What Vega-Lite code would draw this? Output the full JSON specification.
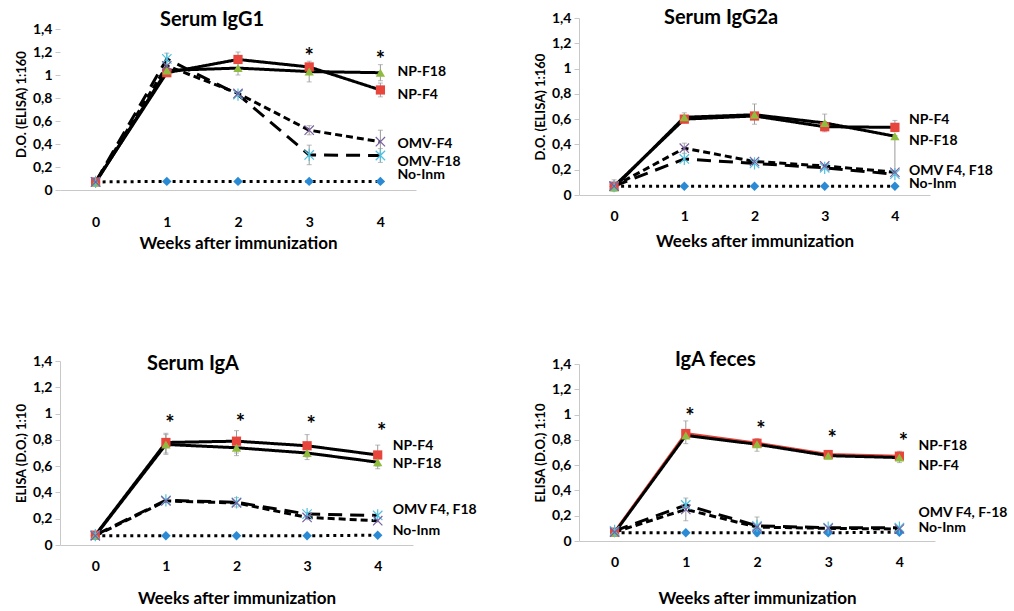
{
  "$schema": "https://vega.github.io/schema/vega-lite/v6.json",
  "background": "white",
  "padding": {"left": 15, "top": 8, "right": 0, "bottom": 0},
  "spacing": 56,
  "columns": 2,
  "align": "none",
  "datasets": {
    "pts": [
      {"p": "IgG1", "s": "No-Inm", "w": 0, "v": 0.07}, {"p": "IgG1", "s": "No-Inm", "w": 1, "v": 0.075}, {"p": "IgG1", "s": "No-Inm", "w": 2, "v": 0.075}, {"p": "IgG1", "s": "No-Inm", "w": 3, "v": 0.075}, {"p": "IgG1", "s": "No-Inm", "w": 4, "v": 0.075},
      {"p": "IgG1", "s": "OMV-F18", "w": 0, "v": 0.07}, {"p": "IgG1", "s": "OMV-F18", "w": 1, "v": 1.14}, {"p": "IgG1", "s": "OMV-F18", "w": 2, "v": 0.83}, {"p": "IgG1", "s": "OMV-F18", "w": 3, "v": 0.305}, {"p": "IgG1", "s": "OMV-F18", "w": 4, "v": 0.3},
      {"p": "IgG1", "s": "OMV-F4", "w": 0, "v": 0.07}, {"p": "IgG1", "s": "OMV-F4", "w": 1, "v": 1.08}, {"p": "IgG1", "s": "OMV-F4", "w": 2, "v": 0.84}, {"p": "IgG1", "s": "OMV-F4", "w": 3, "v": 0.52}, {"p": "IgG1", "s": "OMV-F4", "w": 4, "v": 0.42},
      {"p": "IgG1", "s": "NP-F4", "w": 0, "v": 0.07}, {"p": "IgG1", "s": "NP-F4", "w": 1, "v": 1.02}, {"p": "IgG1", "s": "NP-F4", "w": 2, "v": 1.135}, {"p": "IgG1", "s": "NP-F4", "w": 3, "v": 1.07}, {"p": "IgG1", "s": "NP-F4", "w": 4, "v": 0.87},
      {"p": "IgG1", "s": "NP-F18", "w": 0, "v": 0.065}, {"p": "IgG1", "s": "NP-F18", "w": 1, "v": 1.04}, {"p": "IgG1", "s": "NP-F18", "w": 2, "v": 1.06}, {"p": "IgG1", "s": "NP-F18", "w": 3, "v": 1.03}, {"p": "IgG1", "s": "NP-F18", "w": 4, "v": 1.02},

      {"p": "IgG2a", "s": "No-Inm", "w": 0, "v": 0.07}, {"p": "IgG2a", "s": "No-Inm", "w": 1, "v": 0.07}, {"p": "IgG2a", "s": "No-Inm", "w": 2, "v": 0.07}, {"p": "IgG2a", "s": "No-Inm", "w": 3, "v": 0.07}, {"p": "IgG2a", "s": "No-Inm", "w": 4, "v": 0.07},
      {"p": "IgG2a", "s": "OMV-F18", "w": 0, "v": 0.07}, {"p": "IgG2a", "s": "OMV-F18", "w": 1, "v": 0.285}, {"p": "IgG2a", "s": "OMV-F18", "w": 2, "v": 0.25}, {"p": "IgG2a", "s": "OMV-F18", "w": 3, "v": 0.215}, {"p": "IgG2a", "s": "OMV-F18", "w": 4, "v": 0.165},
      {"p": "IgG2a", "s": "OMV-F4", "w": 0, "v": 0.07}, {"p": "IgG2a", "s": "OMV-F4", "w": 1, "v": 0.37}, {"p": "IgG2a", "s": "OMV-F4", "w": 2, "v": 0.265}, {"p": "IgG2a", "s": "OMV-F4", "w": 3, "v": 0.23}, {"p": "IgG2a", "s": "OMV-F4", "w": 4, "v": 0.18},
      {"p": "IgG2a", "s": "NP-F4", "w": 0, "v": 0.07}, {"p": "IgG2a", "s": "NP-F4", "w": 1, "v": 0.6}, {"p": "IgG2a", "s": "NP-F4", "w": 2, "v": 0.625}, {"p": "IgG2a", "s": "NP-F4", "w": 3, "v": 0.54}, {"p": "IgG2a", "s": "NP-F4", "w": 4, "v": 0.535},
      {"p": "IgG2a", "s": "NP-F18", "w": 0, "v": 0.06}, {"p": "IgG2a", "s": "NP-F18", "w": 1, "v": 0.615}, {"p": "IgG2a", "s": "NP-F18", "w": 2, "v": 0.635}, {"p": "IgG2a", "s": "NP-F18", "w": 3, "v": 0.57}, {"p": "IgG2a", "s": "NP-F18", "w": 4, "v": 0.465},

      {"p": "IgA", "s": "No-Inm", "w": 0, "v": 0.07}, {"p": "IgA", "s": "No-Inm", "w": 1, "v": 0.07}, {"p": "IgA", "s": "No-Inm", "w": 2, "v": 0.07}, {"p": "IgA", "s": "No-Inm", "w": 3, "v": 0.07}, {"p": "IgA", "s": "No-Inm", "w": 4, "v": 0.075},
      {"p": "IgA", "s": "OMV-F18", "w": 0, "v": 0.075}, {"p": "IgA", "s": "OMV-F18", "w": 1, "v": 0.34}, {"p": "IgA", "s": "OMV-F18", "w": 2, "v": 0.325}, {"p": "IgA", "s": "OMV-F18", "w": 3, "v": 0.235}, {"p": "IgA", "s": "OMV-F18", "w": 4, "v": 0.225},
      {"p": "IgA", "s": "OMV-F4", "w": 0, "v": 0.07}, {"p": "IgA", "s": "OMV-F4", "w": 1, "v": 0.335}, {"p": "IgA", "s": "OMV-F4", "w": 2, "v": 0.32}, {"p": "IgA", "s": "OMV-F4", "w": 3, "v": 0.21}, {"p": "IgA", "s": "OMV-F4", "w": 4, "v": 0.185},
      {"p": "IgA", "s": "NP-F4", "w": 0, "v": 0.075}, {"p": "IgA", "s": "NP-F4", "w": 1, "v": 0.78}, {"p": "IgA", "s": "NP-F4", "w": 2, "v": 0.79}, {"p": "IgA", "s": "NP-F4", "w": 3, "v": 0.755}, {"p": "IgA", "s": "NP-F4", "w": 4, "v": 0.685},
      {"p": "IgA", "s": "NP-F18", "w": 0, "v": 0.07}, {"p": "IgA", "s": "NP-F18", "w": 1, "v": 0.765}, {"p": "IgA", "s": "NP-F18", "w": 2, "v": 0.74}, {"p": "IgA", "s": "NP-F18", "w": 3, "v": 0.7}, {"p": "IgA", "s": "NP-F18", "w": 4, "v": 0.63},

      {"p": "feces", "s": "No-Inm", "w": 0, "v": 0.065}, {"p": "feces", "s": "No-Inm", "w": 1, "v": 0.065}, {"p": "feces", "s": "No-Inm", "w": 2, "v": 0.065}, {"p": "feces", "s": "No-Inm", "w": 3, "v": 0.065}, {"p": "feces", "s": "No-Inm", "w": 4, "v": 0.07},
      {"p": "feces", "s": "OMV-F18", "w": 0, "v": 0.08}, {"p": "feces", "s": "OMV-F18", "w": 1, "v": 0.285}, {"p": "feces", "s": "OMV-F18", "w": 2, "v": 0.12}, {"p": "feces", "s": "OMV-F18", "w": 3, "v": 0.105}, {"p": "feces", "s": "OMV-F18", "w": 4, "v": 0.105},
      {"p": "feces", "s": "OMV-F4", "w": 0, "v": 0.07}, {"p": "feces", "s": "OMV-F4", "w": 1, "v": 0.25}, {"p": "feces", "s": "OMV-F4", "w": 2, "v": 0.11}, {"p": "feces", "s": "OMV-F4", "w": 3, "v": 0.1}, {"p": "feces", "s": "OMV-F4", "w": 4, "v": 0.095},
      {"p": "feces", "s": "NP-F4", "w": 0, "v": 0.07}, {"p": "feces", "s": "NP-F4", "w": 1, "v": 0.85}, {"p": "feces", "s": "NP-F4", "w": 2, "v": 0.773}, {"p": "feces", "s": "NP-F4", "w": 3, "v": 0.684}, {"p": "feces", "s": "NP-F4", "w": 4, "v": 0.671},
      {"p": "feces", "s": "NP-F18", "w": 0, "v": 0.065}, {"p": "feces", "s": "NP-F18", "w": 1, "v": 0.835}, {"p": "feces", "s": "NP-F18", "w": 2, "v": 0.765}, {"p": "feces", "s": "NP-F18", "w": 3, "v": 0.675}, {"p": "feces", "s": "NP-F18", "w": 4, "v": 0.66}
    ],
    "err": [
      {"p": "IgG1", "s": "NP-F4", "w": 2, "lo": 1.1, "hi": 1.2}, {"p": "IgG1", "s": "NP-F4", "w": 3, "lo": 1.02, "hi": 1.12}, {"p": "IgG1", "s": "NP-F4", "w": 4, "lo": 0.81, "hi": 0.93},
      {"p": "IgG1", "s": "NP-F18", "w": 2, "lo": 1.0, "hi": 1.12}, {"p": "IgG1", "s": "NP-F18", "w": 3, "lo": 0.94, "hi": 1.1}, {"p": "IgG1", "s": "NP-F18", "w": 4, "lo": 0.95, "hi": 1.09},
      {"p": "IgG1", "s": "OMV-F18", "w": 1, "lo": 1.09, "hi": 1.19}, {"p": "IgG1", "s": "OMV-F18", "w": 3, "lo": 0.22, "hi": 0.39}, {"p": "IgG1", "s": "OMV-F18", "w": 4, "lo": 0.24, "hi": 0.36},
      {"p": "IgG1", "s": "OMV-F4", "w": 3, "lo": 0.48, "hi": 0.56}, {"p": "IgG1", "s": "OMV-F4", "w": 4, "lo": 0.32, "hi": 0.52},
      {"p": "IgG2a", "s": "NP-F4", "w": 0, "lo": 0.03, "hi": 0.12}, {"p": "IgG2a", "s": "NP-F18", "w": 1, "lo": 0.57, "hi": 0.65}, {"p": "IgG2a", "s": "NP-F18", "w": 2, "lo": 0.56, "hi": 0.72},
      {"p": "IgG2a", "s": "NP-F18", "w": 3, "lo": 0.5, "hi": 0.64}, {"p": "IgG2a", "s": "NP-F18", "w": 4, "lo": 0.19, "hi": 0.47}, {"p": "IgG2a", "s": "NP-F4", "w": 4, "lo": 0.5, "hi": 0.59},
      {"p": "IgG2a", "s": "OMV-F4", "w": 1, "lo": 0.33, "hi": 0.41},
      {"p": "IgA", "s": "NP-F4", "w": 1, "lo": 0.7, "hi": 0.85}, {"p": "IgA", "s": "NP-F4", "w": 2, "lo": 0.7, "hi": 0.87}, {"p": "IgA", "s": "NP-F4", "w": 3, "lo": 0.67, "hi": 0.84}, {"p": "IgA", "s": "NP-F4", "w": 4, "lo": 0.6, "hi": 0.76},
      {"p": "IgA", "s": "NP-F18", "w": 1, "lo": 0.69, "hi": 0.84}, {"p": "IgA", "s": "NP-F18", "w": 2, "lo": 0.68, "hi": 0.8}, {"p": "IgA", "s": "NP-F18", "w": 3, "lo": 0.65, "hi": 0.76}, {"p": "IgA", "s": "NP-F18", "w": 4, "lo": 0.58, "hi": 0.68},
      {"p": "IgA", "s": "OMV-F18", "w": 2, "lo": 0.29, "hi": 0.36},
      {"p": "feces", "s": "NP-F4", "w": 1, "lo": 0.77, "hi": 0.95}, {"p": "feces", "s": "NP-F18", "w": 2, "lo": 0.71, "hi": 0.81}, {"p": "feces", "s": "NP-F4", "w": 4, "lo": 0.62, "hi": 0.71},
      {"p": "feces", "s": "OMV-F18", "w": 1, "lo": 0.16, "hi": 0.34}, {"p": "feces", "s": "OMV-F18", "w": 2, "lo": 0.04, "hi": 0.19}
    ],
    "lab": [
      {"p": "IgG1", "t": "NP-F18", "y": 1.03}, {"p": "IgG1", "t": "NP-F4", "y": 0.83}, {"p": "IgG1", "t": "OMV-F4", "y": 0.4}, {"p": "IgG1", "t": "OMV-F18", "y": 0.24}, {"p": "IgG1", "t": "No-Inm", "y": 0.13},
      {"p": "IgG2a", "t": "NP-F4", "y": 0.595}, {"p": "IgG2a", "t": "NP-F18", "y": 0.43}, {"p": "IgG2a", "t": "OMV F4, F18", "y": 0.19}, {"p": "IgG2a", "t": "No-Inm", "y": 0.087},
      {"p": "IgA", "t": "NP-F4", "y": 0.75}, {"p": "IgA", "t": "NP-F18", "y": 0.616}, {"p": "IgA", "t": "OMV F4, F18", "y": 0.266}, {"p": "IgA", "t": "No-Inm", "y": 0.107},
      {"p": "feces", "t": "NP-F18", "y": 0.755}, {"p": "feces", "t": "NP-F4", "y": 0.59}, {"p": "feces", "t": "OMV F4, F-18", "y": 0.22}, {"p": "feces", "t": "No-Inm", "y": 0.1}
    ],
    "star": [
      {"p": "IgG1", "w": 3, "y": 1.2}, {"p": "IgG1", "w": 4, "y": 1.17},
      {"p": "IgA", "w": 1, "y": 0.96}, {"p": "IgA", "w": 2, "y": 0.97}, {"p": "IgA", "w": 3, "y": 0.95}, {"p": "IgA", "w": 4, "y": 0.9},
      {"p": "feces", "w": 1, "y": 1.02}, {"p": "feces", "w": 2, "y": 0.92}, {"p": "feces", "w": 3, "y": 0.845}, {"p": "feces", "w": 4, "y": 0.82}
    ]
  },
  "concat": [
    {
      "spacing": 103,
      "vconcat": [
        {
          "width": 356,
          "height": 172,
          "title": {"text": "Serum IgG1", "anchor": "start", "frame": "group", "dx": 100, "offset": -28, "baseline": "alphabetic"},
          "layer": [
            {
              "data": {"name": "pts"},
              "transform": [{"filter": "datum.p == 'IgG1'"}],
              "mark": {"type": "line", "strokeWidth": 3, "color": "black"},
              "encoding": {
                "x": {"field": "w", "type": "quantitative", "scale": {"domain": [-0.5, 4.5], "nice": false, "zero": false}, "title": "Weeks after immunization", "axis": {"values": [0, 1, 2, 3, 4], "format": "d", "ticks": false, "labelPadding": 25, "titlePadding": 6}},
                "y": {"field": "v", "type": "quantitative", "scale": {"domain": [0, 1.4957], "nice": false}, "title": "D.O. (ELISA) 1:160", "axis": {"values": [0, 0.2, 0.4, 0.6, 0.8, 1, 1.2, 1.4], "tickCount": 10, "domain": false, "labelExpr": "replace(format(datum.value, '~g'), '.', ',')", "tickSize": 5, "labelPadding": 3, "titlePadding": 4}},
                "strokeDash": {"field": "s", "legend": null, "scale": {"domain": ["NP-F4", "NP-F18", "OMV-F4", "OMV-F18", "No-Inm"], "range": [[1, 0], [1, 0], [7, 4], [14, 8], [3, 4]]}}
              }
            },
            {
              "mark": {"type": "rule", "color": "#c8c8c8", "strokeWidth": 1},
              "encoding": {
                "x": {"datum": -0.5, "type": "quantitative"},
                "y": {"datum": 0, "type": "quantitative"},
                "y2": {"datum": 1.4}
              }
            },
            {
              "data": {"name": "err"},
              "transform": [{"filter": "datum.p == 'IgG1'"}],
              "mark": {"type": "errorbar", "ticks": {"size": 5}, "color": "#9a9a9a", "thickness": 1},
              "encoding": {
                "x": {"field": "w", "type": "quantitative", "title": "Weeks after immunization"},
                "y": {"field": "lo", "type": "quantitative", "title": "D.O. (ELISA) 1:160"},
                "y2": {"field": "hi"}
              }
            },
            {
              "data": {"name": "pts"},
              "transform": [{"filter": "datum.p == 'IgG1' && indexof(['NP-F4','NP-F18','No-Inm'], datum.s) >= 0"}],
              "mark": {"type": "point", "filled": true, "opacity": 1},
              "encoding": {
                "x": {"field": "w", "type": "quantitative", "title": "Weeks after immunization"},
                "y": {"field": "v", "type": "quantitative", "title": "D.O. (ELISA) 1:160"},
                "shape": {"field": "s", "legend": null, "scale": {"domain": ["NP-F4", "NP-F18", "OMV-F4", "OMV-F18", "No-Inm"], "range": ["square", "triangle-up", "M-1,-1L1,1M1,-1L-1,1", "M-1,-1L1,1M1,-1L-1,1M0,-1.3L0,1.3", "diamond"]}},
                "fill": {"field": "s", "legend": null, "scale": {"domain": ["NP-F4", "NP-F18", "OMV-F4", "OMV-F18", "No-Inm"], "range": ["#e8453c", "#8fbc3f", "#7a60a0", "#4fc1e0", "#2a8ad4"]}},
                "size": {"field": "s", "legend": null, "scale": {"domain": ["NP-F4", "NP-F18", "OMV-F4", "OMV-F18", "No-Inm"], "range": [85, 90, 90, 110, 50]}}
              }
            },
            {
              "data": {"name": "pts"},
              "transform": [{"filter": "datum.p == 'IgG1' && indexof(['OMV-F4','OMV-F18'], datum.s) >= 0"}],
              "mark": {"type": "point", "filled": false, "opacity": 1, "strokeWidth": 1.2},
              "encoding": {
                "x": {"field": "w", "type": "quantitative", "title": "Weeks after immunization"},
                "y": {"field": "v", "type": "quantitative", "title": "D.O. (ELISA) 1:160"},
                "shape": {"field": "s", "legend": null},
                "stroke": {"field": "s", "legend": null, "scale": {"domain": ["NP-F4", "NP-F18", "OMV-F4", "OMV-F18", "No-Inm"], "range": ["#e8453c", "#8fbc3f", "#7a60a0", "#4fc1e0", "#2a8ad4"]}},
                "size": {"field": "s", "legend": null}
              }
            },
            {
              "data": {"name": "lab"},
              "transform": [{"filter": "datum.p == 'IgG1'"}],
              "mark": {"type": "text", "align": "left", "baseline": "middle", "dx": 17, "fontSize": 14, "fontWeight": "bold"},
              "encoding": {
                "x": {"datum": 4, "type": "quantitative"},
                "y": {"field": "y", "type": "quantitative"},
                "text": {"field": "t"}
              }
            },
            {
              "data": {"name": "star"},
              "transform": [{"filter": "datum.p == 'IgG1'"}],
              "mark": {"type": "text", "text": "*", "baseline": "alphabetic", "dy": 12, "fontSize": 22, "fontWeight": "bold"},
              "encoding": {
                "x": {"field": "w", "type": "quantitative"},
                "y": {"field": "y", "type": "quantitative"}
              }
            }
          ]
        },
        {
          "width": 353,
          "height": 184,
          "title": {"text": "Serum IgA", "anchor": "start", "frame": "group", "dx": 87, "offset": -36, "baseline": "alphabetic"},
          "layer": [
            {
              "data": {"name": "pts"},
              "transform": [{"filter": "datum.p == 'IgA'"}],
              "mark": {"type": "line", "strokeWidth": 3, "color": "black"},
              "encoding": {
                "x": {"field": "w", "type": "quantitative", "scale": {"domain": [-0.5, 4.5], "nice": false, "zero": false}, "title": "Weeks after immunization", "axis": {"values": [0, 1, 2, 3, 4], "format": "d", "ticks": false, "labelPadding": 14, "titlePadding": 17}},
                "y": {"field": "v", "type": "quantitative", "scale": {"domain": [0, 1.4], "nice": false}, "title": "ELISA (D.O.) 1:10", "axis": {"values": [0, 0.2, 0.4, 0.6, 0.8, 1, 1.2, 1.4], "tickCount": 10, "labelExpr": "replace(format(datum.value, '~g'), '.', ',')", "tickSize": 5, "labelPadding": 3, "titlePadding": 4}},
                "strokeDash": {"field": "s", "legend": null, "scale": {"domain": ["NP-F4", "NP-F18", "OMV-F4", "OMV-F18", "No-Inm"], "range": [[1, 0], [1, 0], [10, 5], [12, 4, 3, 4], [3, 4]]}}
              }
            },
            {
              "data": {"name": "err"},
              "transform": [{"filter": "datum.p == 'IgA'"}],
              "mark": {"type": "errorbar", "ticks": {"size": 5}, "color": "#9a9a9a", "thickness": 1},
              "encoding": {
                "x": {"field": "w", "type": "quantitative", "title": "Weeks after immunization"},
                "y": {"field": "lo", "type": "quantitative", "title": "ELISA (D.O.) 1:10"},
                "y2": {"field": "hi"}
              }
            },
            {
              "data": {"name": "pts"},
              "transform": [{"filter": "datum.p == 'IgA' && indexof(['NP-F4','NP-F18','No-Inm'], datum.s) >= 0"}],
              "mark": {"type": "point", "filled": true, "opacity": 1},
              "encoding": {
                "x": {"field": "w", "type": "quantitative", "title": "Weeks after immunization"},
                "y": {"field": "v", "type": "quantitative", "title": "ELISA (D.O.) 1:10"},
                "shape": {"field": "s", "legend": null, "scale": {"domain": ["NP-F4", "NP-F18", "OMV-F4", "OMV-F18", "No-Inm"], "range": ["square", "triangle-up", "M-1,-1L1,1M1,-1L-1,1", "M-1,-1L1,1M1,-1L-1,1M0,-1.3L0,1.3", "diamond"]}},
                "fill": {"field": "s", "legend": null, "scale": {"domain": ["NP-F4", "NP-F18", "OMV-F4", "OMV-F18", "No-Inm"], "range": ["#e8453c", "#8fbc3f", "#7a60a0", "#4fc1e0", "#2a8ad4"]}},
                "size": {"field": "s", "legend": null, "scale": {"domain": ["NP-F4", "NP-F18", "OMV-F4", "OMV-F18", "No-Inm"], "range": [85, 90, 90, 110, 50]}}
              }
            },
            {
              "data": {"name": "pts"},
              "transform": [{"filter": "datum.p == 'IgA' && indexof(['OMV-F4','OMV-F18'], datum.s) >= 0"}],
              "mark": {"type": "point", "filled": false, "opacity": 1, "strokeWidth": 1.2},
              "encoding": {
                "x": {"field": "w", "type": "quantitative", "title": "Weeks after immunization"},
                "y": {"field": "v", "type": "quantitative", "title": "ELISA (D.O.) 1:10"},
                "shape": {"field": "s", "legend": null},
                "stroke": {"field": "s", "legend": null, "scale": {"domain": ["NP-F4", "NP-F18", "OMV-F4", "OMV-F18", "No-Inm"], "range": ["#e8453c", "#8fbc3f", "#7a60a0", "#4fc1e0", "#2a8ad4"]}},
                "size": {"field": "s", "legend": null}
              }
            },
            {
              "data": {"name": "lab"},
              "transform": [{"filter": "datum.p == 'IgA'"}],
              "mark": {"type": "text", "align": "left", "baseline": "middle", "dx": 15, "fontSize": 14, "fontWeight": "bold"},
              "encoding": {
                "x": {"datum": 4, "type": "quantitative"},
                "y": {"field": "y", "type": "quantitative"},
                "text": {"field": "t"}
              }
            },
            {
              "data": {"name": "star"},
              "transform": [{"filter": "datum.p == 'IgA'"}],
              "mark": {"type": "text", "text": "*", "baseline": "alphabetic", "dx": 4, "dy": 12, "fontSize": 22, "fontWeight": "bold"},
              "encoding": {
                "x": {"field": "w", "type": "quantitative"},
                "y": {"field": "y", "type": "quantitative"}
              }
            }
          ]
        }
      ]
    },
    {
      "spacing": 101,
      "vconcat": [
        {
          "width": 351,
          "height": 177,
          "title": {"text": "Serum IgG2a", "anchor": "start", "frame": "group", "dx": 85, "offset": -33, "baseline": "alphabetic"},
          "layer": [
            {
              "data": {"name": "pts"},
              "transform": [{"filter": "datum.p == 'IgG2a'"}],
              "mark": {"type": "line", "strokeWidth": 3, "color": "black"},
              "encoding": {
                "x": {"field": "w", "type": "quantitative", "scale": {"domain": [-0.5, 4.5], "nice": false, "zero": false}, "title": "Weeks after immunization", "axis": {"values": [0, 1, 2, 3, 4], "format": "d", "ticks": false, "labelPadding": 14, "titlePadding": 10}},
                "y": {"field": "v", "type": "quantitative", "scale": {"domain": [0, 1.4], "nice": false}, "title": "D.O. (ELISA) 1:160", "axis": {"values": [0, 0.2, 0.4, 0.6, 0.8, 1, 1.2, 1.4], "tickCount": 10, "labelExpr": "replace(format(datum.value, '~g'), '.', ',')", "tickSize": 5, "labelPadding": 3, "titlePadding": 4}},
                "strokeDash": {"field": "s", "legend": null, "scale": {"domain": ["NP-F4", "NP-F18", "OMV-F4", "OMV-F18", "No-Inm"], "range": [[1, 0], [1, 0], [10, 5], [12, 4, 3, 4], [3, 4]]}}
              }
            },
            {
              "data": {"name": "err"},
              "transform": [{"filter": "datum.p == 'IgG2a'"}],
              "mark": {"type": "errorbar", "ticks": {"size": 5}, "color": "#9a9a9a", "thickness": 1},
              "encoding": {
                "x": {"field": "w", "type": "quantitative", "title": "Weeks after immunization"},
                "y": {"field": "lo", "type": "quantitative", "title": "D.O. (ELISA) 1:160"},
                "y2": {"field": "hi"}
              }
            },
            {
              "data": {"name": "pts"},
              "transform": [{"filter": "datum.p == 'IgG2a' && indexof(['NP-F4','NP-F18','No-Inm'], datum.s) >= 0"}],
              "mark": {"type": "point", "filled": true, "opacity": 1},
              "encoding": {
                "x": {"field": "w", "type": "quantitative", "title": "Weeks after immunization"},
                "y": {"field": "v", "type": "quantitative", "title": "D.O. (ELISA) 1:160"},
                "shape": {"field": "s", "legend": null, "scale": {"domain": ["NP-F4", "NP-F18", "OMV-F4", "OMV-F18", "No-Inm"], "range": ["square", "triangle-up", "M-1,-1L1,1M1,-1L-1,1", "M-1,-1L1,1M1,-1L-1,1M0,-1.3L0,1.3", "diamond"]}},
                "fill": {"field": "s", "legend": null, "scale": {"domain": ["NP-F4", "NP-F18", "OMV-F4", "OMV-F18", "No-Inm"], "range": ["#e8453c", "#8fbc3f", "#7a60a0", "#4fc1e0", "#2a8ad4"]}},
                "size": {"field": "s", "legend": null, "scale": {"domain": ["NP-F4", "NP-F18", "OMV-F4", "OMV-F18", "No-Inm"], "range": [85, 90, 90, 110, 50]}}
              }
            },
            {
              "data": {"name": "pts"},
              "transform": [{"filter": "datum.p == 'IgG2a' && indexof(['OMV-F4','OMV-F18'], datum.s) >= 0"}],
              "mark": {"type": "point", "filled": false, "opacity": 1, "strokeWidth": 1.2},
              "encoding": {
                "x": {"field": "w", "type": "quantitative", "title": "Weeks after immunization"},
                "y": {"field": "v", "type": "quantitative", "title": "D.O. (ELISA) 1:160"},
                "shape": {"field": "s", "legend": null},
                "stroke": {"field": "s", "legend": null, "scale": {"domain": ["NP-F4", "NP-F18", "OMV-F4", "OMV-F18", "No-Inm"], "range": ["#e8453c", "#8fbc3f", "#7a60a0", "#4fc1e0", "#2a8ad4"]}},
                "size": {"field": "s", "legend": null}
              }
            },
            {
              "data": {"name": "lab"},
              "transform": [{"filter": "datum.p == 'IgG2a'"}],
              "mark": {"type": "text", "align": "left", "baseline": "middle", "dx": 14, "fontSize": 14, "fontWeight": "bold"},
              "encoding": {
                "x": {"datum": 4, "type": "quantitative"},
                "y": {"field": "y", "type": "quantitative"},
                "text": {"field": "t"}
              }
            }
          ]
        },
        {
          "width": 356,
          "height": 177,
          "title": {"text": "IgA feces", "anchor": "start", "frame": "group", "dx": 96, "offset": -29, "baseline": "alphabetic"},
          "layer": [
            {
              "data": {"name": "pts"},
              "transform": [{"filter": "datum.p == 'feces' && datum.s == 'NP-F4'"}],
              "mark": {"type": "line", "strokeWidth": 3, "color": "#e8453c"},
              "encoding": {
                "x": {"field": "w", "type": "quantitative", "scale": {"domain": [-0.5, 4.5], "nice": false, "zero": false}, "title": "Weeks after immunization", "axis": {"values": [0, 1, 2, 3, 4], "format": "d", "ticks": false, "labelPadding": 14, "titlePadding": 21}},
                "y": {"field": "v", "type": "quantitative", "scale": {"domain": [0, 1.4], "nice": false}, "title": "ELISA (D.O.) 1:10", "axis": {"values": [0, 0.2, 0.4, 0.6, 0.8, 1, 1.2, 1.4], "tickCount": 10, "labelExpr": "replace(format(datum.value, '~g'), '.', ',')", "tickSize": 5, "labelPadding": 3, "titlePadding": 4}}
              }
            },
            {
              "data": {"name": "pts"},
              "transform": [{"filter": "datum.p == 'feces' && datum.s != 'NP-F4'"}],
              "mark": {"type": "line", "strokeWidth": 3, "color": "black"},
              "encoding": {
                "x": {"field": "w", "type": "quantitative", "title": "Weeks after immunization"},
                "y": {"field": "v", "type": "quantitative", "title": "ELISA (D.O.) 1:10"},
                "strokeDash": {"field": "s", "legend": null, "scale": {"domain": ["NP-F4", "NP-F18", "OMV-F4", "OMV-F18", "No-Inm"], "range": [[1, 0], [1, 0], [10, 5], [12, 4, 3, 4], [3, 4]]}}
              }
            },
            {
              "data": {"name": "err"},
              "transform": [{"filter": "datum.p == 'feces'"}],
              "mark": {"type": "errorbar", "ticks": {"size": 5}, "color": "#9a9a9a", "thickness": 1},
              "encoding": {
                "x": {"field": "w", "type": "quantitative", "title": "Weeks after immunization"},
                "y": {"field": "lo", "type": "quantitative", "title": "ELISA (D.O.) 1:10"},
                "y2": {"field": "hi"}
              }
            },
            {
              "data": {"name": "pts"},
              "transform": [{"filter": "datum.p == 'feces' && indexof(['NP-F4','NP-F18','No-Inm'], datum.s) >= 0"}],
              "mark": {"type": "point", "filled": true, "opacity": 1},
              "encoding": {
                "x": {"field": "w", "type": "quantitative", "title": "Weeks after immunization"},
                "y": {"field": "v", "type": "quantitative", "title": "ELISA (D.O.) 1:10"},
                "shape": {"field": "s", "legend": null, "scale": {"domain": ["NP-F4", "NP-F18", "OMV-F4", "OMV-F18", "No-Inm"], "range": ["square", "triangle-up", "M-1,-1L1,1M1,-1L-1,1", "M-1,-1L1,1M1,-1L-1,1M0,-1.3L0,1.3", "diamond"]}},
                "fill": {"field": "s", "legend": null, "scale": {"domain": ["NP-F4", "NP-F18", "OMV-F4", "OMV-F18", "No-Inm"], "range": ["#e8453c", "#8fbc3f", "#7a60a0", "#4fc1e0", "#2a8ad4"]}},
                "size": {"field": "s", "legend": null, "scale": {"domain": ["NP-F4", "NP-F18", "OMV-F4", "OMV-F18", "No-Inm"], "range": [85, 90, 90, 110, 50]}}
              }
            },
            {
              "data": {"name": "pts"},
              "transform": [{"filter": "datum.p == 'feces' && indexof(['OMV-F4','OMV-F18'], datum.s) >= 0"}],
              "mark": {"type": "point", "filled": false, "opacity": 1, "strokeWidth": 1.2},
              "encoding": {
                "x": {"field": "w", "type": "quantitative", "title": "Weeks after immunization"},
                "y": {"field": "v", "type": "quantitative", "title": "ELISA (D.O.) 1:10"},
                "shape": {"field": "s", "legend": null},
                "stroke": {"field": "s", "legend": null, "scale": {"domain": ["NP-F4", "NP-F18", "OMV-F4", "OMV-F18", "No-Inm"], "range": ["#e8453c", "#8fbc3f", "#7a60a0", "#4fc1e0", "#2a8ad4"]}},
                "size": {"field": "s", "legend": null}
              }
            },
            {
              "data": {"name": "lab"},
              "transform": [{"filter": "datum.p == 'feces'"}],
              "mark": {"type": "text", "align": "left", "baseline": "middle", "dx": 19, "fontSize": 14, "fontWeight": "bold"},
              "encoding": {
                "x": {"datum": 4, "type": "quantitative"},
                "y": {"field": "y", "type": "quantitative"},
                "text": {"field": "t"}
              }
            },
            {
              "data": {"name": "star"},
              "transform": [{"filter": "datum.p == 'feces'"}],
              "mark": {"type": "text", "text": "*", "baseline": "alphabetic", "dx": 4, "dy": 12, "fontSize": 22, "fontWeight": "bold"},
              "encoding": {
                "x": {"field": "w", "type": "quantitative"},
                "y": {"field": "y", "type": "quantitative"}
              }
            }
          ]
        }
      ]
    }
  ],
  "config": {
    "font": "Lato",
    "view": {"stroke": null},
    "axis": {
      "grid": false,
      "labelOverlap": false,
      "domainColor": "#c8c8c8",
      "tickColor": "#c8c8c8",
      "labelFont": "Lato",
      "labelFontWeight": "bold",
      "labelFontSize": 14,
      "labelColor": "#000000",
      "titleFont": "Lato",
      "titleFontWeight": "bold",
      "titleColor": "#000000"
    },
    "axisX": {"titleFontSize": 17},
    "axisY": {"titleFontSize": 13},
    "title": {"font": "Lato", "fontSize": 20, "fontWeight": "bold", "color": "#000000"},
    "text": {"font": "Lato", "color": "#000000"}
  }
}
